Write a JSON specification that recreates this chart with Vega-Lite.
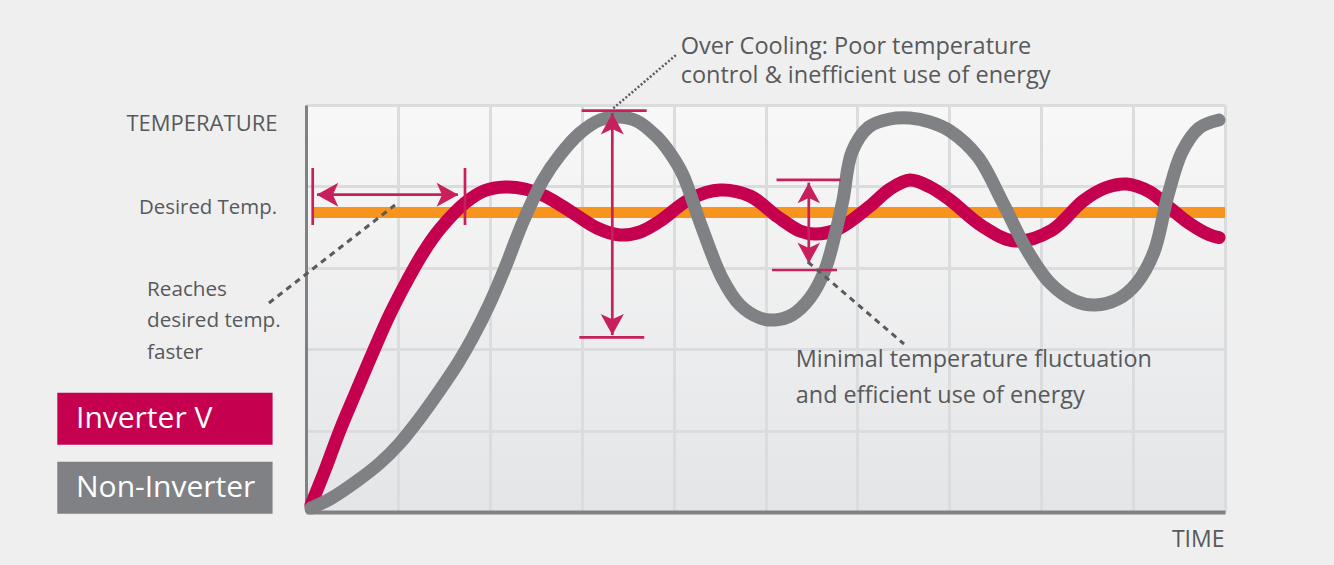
{
  "$schema": "https://vega.github.io/schema/vega-lite/v6.json",
  "width": 919,
  "height": 407,
  "autosize": "none",
  "padding": {"left": 306, "top": 105, "right": 109, "bottom": 53},
  "background": "#efeff0",
  "config": {
    "view": {"stroke": null, "fill": {"gradient": "linear", "x1": 0, "y1": 0, "x2": 0, "y2": 1, "stops": [{"offset": 0, "color": "#f8f8f8"}, {"offset": 1, "color": "#e4e5e7"}]}},
    "font": "Open Sans",
    "axis": {
      "grid": true, "gridColor": "#dbdcde", "gridWidth": 3,
      "labels": false, "ticks": false,
      "domainColor": "#808184",
      "titleFont": "Open Sans", "titleFontWeight": "normal", "titleColor": "#58595b", "titleFontSize": 22
    },
    "legend": {
      "orient": "none", "legendX": -248.7, "legendY": 287.7, "direction": "vertical",
      "symbolType": "M-1,-1 L7.28,-1 L7.28,1 L-1,1 Z",
      "symbolSize": 2704, "symbolStrokeWidth": 0, "symbolOpacity": 1,
      "labelColor": "#ffffff", "labelFont": "Open Sans", "labelFontSize": 30, "labelFontWeight": 500,
      "labelOffset": -33.3, "labelLimit": 300, "rowPadding": 17, "padding": 0
    }
  },
  "datasets": {
    "curves": [
      {"series": "Inverter V", "t": 0.054, "v": 0.086},
      {"series": "Inverter V", "t": 0.207, "v": 0.516},
      {"series": "Inverter V", "t": 0.370, "v": 1.007},
      {"series": "Inverter V", "t": 0.544, "v": 1.474},
      {"series": "Inverter V", "t": 0.729, "v": 1.965},
      {"series": "Inverter V", "t": 0.914, "v": 2.432},
      {"series": "Inverter V", "t": 1.099, "v": 2.838},
      {"series": "Inverter V", "t": 1.273, "v": 3.182},
      {"series": "Inverter V", "t": 1.458, "v": 3.477},
      {"series": "Inverter V", "t": 1.730, "v": 3.796},
      {"series": "Inverter V", "t": 1.948, "v": 3.950},
      {"series": "Inverter V", "t": 2.165, "v": 3.993},
      {"series": "Inverter V", "t": 2.383, "v": 3.968},
      {"series": "Inverter V", "t": 2.601, "v": 3.882},
      {"series": "Inverter V", "t": 2.905, "v": 3.673},
      {"series": "Inverter V", "t": 3.166, "v": 3.489},
      {"series": "Inverter V", "t": 3.417, "v": 3.403},
      {"series": "Inverter V", "t": 3.634, "v": 3.440},
      {"series": "Inverter V", "t": 3.852, "v": 3.575},
      {"series": "Inverter V", "t": 4.178, "v": 3.845},
      {"series": "Inverter V", "t": 4.505, "v": 3.956},
      {"series": "Inverter V", "t": 4.831, "v": 3.882},
      {"series": "Inverter V", "t": 5.136, "v": 3.624},
      {"series": "Inverter V", "t": 5.375, "v": 3.452},
      {"series": "Inverter V", "t": 5.539, "v": 3.415},
      {"series": "Inverter V", "t": 5.789, "v": 3.477},
      {"series": "Inverter V", "t": 6.126, "v": 3.747},
      {"series": "Inverter V", "t": 6.355, "v": 3.968},
      {"series": "Inverter V", "t": 6.572, "v": 4.079},
      {"series": "Inverter V", "t": 6.790, "v": 3.993},
      {"series": "Inverter V", "t": 7.008, "v": 3.833},
      {"series": "Inverter V", "t": 7.356, "v": 3.514},
      {"series": "Inverter V", "t": 7.715, "v": 3.329},
      {"series": "Inverter V", "t": 8.118, "v": 3.464},
      {"series": "Inverter V", "t": 8.455, "v": 3.821},
      {"series": "Inverter V", "t": 8.694, "v": 3.980},
      {"series": "Inverter V", "t": 8.934, "v": 4.029},
      {"series": "Inverter V", "t": 9.184, "v": 3.931},
      {"series": "Inverter V", "t": 9.402, "v": 3.735},
      {"series": "Inverter V", "t": 9.608, "v": 3.550},
      {"series": "Inverter V", "t": 9.837, "v": 3.403},
      {"series": "Inverter V", "t": 9.935, "v": 3.372},
      {"series": "Non-Inverter", "t": 0.054, "v": 0.049},
      {"series": "Non-Inverter", "t": 0.261, "v": 0.160},
      {"series": "Non-Inverter", "t": 0.555, "v": 0.381},
      {"series": "Non-Inverter", "t": 0.805, "v": 0.602},
      {"series": "Non-Inverter", "t": 1.023, "v": 0.848},
      {"series": "Non-Inverter", "t": 1.240, "v": 1.155},
      {"series": "Non-Inverter", "t": 1.458, "v": 1.499},
      {"series": "Non-Inverter", "t": 1.654, "v": 1.830},
      {"series": "Non-Inverter", "t": 1.817, "v": 2.150},
      {"series": "Non-Inverter", "t": 2.002, "v": 2.568},
      {"series": "Non-Inverter", "t": 2.165, "v": 2.998},
      {"series": "Non-Inverter", "t": 2.361, "v": 3.563},
      {"series": "Non-Inverter", "t": 2.579, "v": 4.079},
      {"series": "Non-Inverter", "t": 2.764, "v": 4.386},
      {"series": "Non-Inverter", "t": 2.982, "v": 4.656},
      {"series": "Non-Inverter", "t": 3.199, "v": 4.816},
      {"series": "Non-Inverter", "t": 3.395, "v": 4.853},
      {"series": "Non-Inverter", "t": 3.602, "v": 4.803},
      {"series": "Non-Inverter", "t": 3.819, "v": 4.607},
      {"series": "Non-Inverter", "t": 3.961, "v": 4.410},
      {"series": "Non-Inverter", "t": 4.102, "v": 4.140},
      {"series": "Non-Inverter", "t": 4.298, "v": 3.526},
      {"series": "Non-Inverter", "t": 4.527, "v": 2.875},
      {"series": "Non-Inverter", "t": 4.722, "v": 2.543},
      {"series": "Non-Inverter", "t": 4.940, "v": 2.383},
      {"series": "Non-Inverter", "t": 5.103, "v": 2.359},
      {"series": "Non-Inverter", "t": 5.288, "v": 2.420},
      {"series": "Non-Inverter", "t": 5.484, "v": 2.629},
      {"series": "Non-Inverter", "t": 5.647, "v": 2.973},
      {"series": "Non-Inverter", "t": 5.756, "v": 3.403},
      {"series": "Non-Inverter", "t": 5.843, "v": 3.833},
      {"series": "Non-Inverter", "t": 5.941, "v": 4.423},
      {"series": "Non-Inverter", "t": 6.126, "v": 4.730},
      {"series": "Non-Inverter", "t": 6.355, "v": 4.828},
      {"series": "Non-Inverter", "t": 6.572, "v": 4.840},
      {"series": "Non-Inverter", "t": 6.790, "v": 4.791},
      {"series": "Non-Inverter", "t": 7.008, "v": 4.681},
      {"series": "Non-Inverter", "t": 7.312, "v": 4.361},
      {"series": "Non-Inverter", "t": 7.584, "v": 3.796},
      {"series": "Non-Inverter", "t": 7.845, "v": 3.219},
      {"series": "Non-Inverter", "t": 8.096, "v": 2.813},
      {"series": "Non-Inverter", "t": 8.368, "v": 2.592},
      {"series": "Non-Inverter", "t": 8.585, "v": 2.543},
      {"series": "Non-Inverter", "t": 8.836, "v": 2.617},
      {"series": "Non-Inverter", "t": 9.032, "v": 2.801},
      {"series": "Non-Inverter", "t": 9.227, "v": 3.194},
      {"series": "Non-Inverter", "t": 9.380, "v": 3.894},
      {"series": "Non-Inverter", "t": 9.532, "v": 4.423},
      {"series": "Non-Inverter", "t": 9.717, "v": 4.717},
      {"series": "Non-Inverter", "t": 9.935, "v": 4.816}
    ],
    "desired": [
      {"name": "Desired Temp.", "t0": 0.075, "t1": 10, "v": 3.68}
    ],
    "spans": [
      {"arrow": "reach", "part": "shaft", "t": 0.120, "v": 3.898, "t2": 1.654, "v2": 3.898},
      {"arrow": "reach", "part": "start", "t": 0.073, "v": 4.226, "t2": 0.073, "v2": 3.526},
      {"arrow": "reach", "part": "end", "t": 1.730, "v": 4.226, "t2": 1.730, "v2": 3.526},
      {"arrow": "over", "part": "shaft", "t": 3.333, "v": 4.902, "t2": 3.333, "v2": 2.174},
      {"arrow": "over", "part": "top", "t": 3.000, "v": 4.930, "t2": 3.707, "v2": 4.930},
      {"arrow": "over", "part": "bottom", "t": 2.974, "v": 2.146, "t2": 3.681, "v2": 2.146},
      {"arrow": "minimal", "part": "shaft", "t": 5.471, "v": 4.046, "t2": 5.471, "v2": 3.055},
      {"arrow": "minimal", "part": "top", "t": 5.120, "v": 4.079, "t2": 5.818, "v2": 4.079},
      {"arrow": "minimal", "part": "bottom", "t": 5.071, "v": 2.973, "t2": 5.778, "v2": 2.973}
    ],
    "heads": [
      {"arrow": "reach", "dir": "left", "t": 0.116, "v": 3.898},
      {"arrow": "reach", "dir": "right", "t": 1.657, "v": 3.898},
      {"arrow": "over", "dir": "up", "t": 3.333, "v": 4.898},
      {"arrow": "over", "dir": "down", "t": 3.333, "v": 2.174},
      {"arrow": "minimal", "dir": "up", "t": 5.471, "v": 4.045},
      {"arrow": "minimal", "dir": "down", "t": 5.471, "v": 3.055}
    ],
    "leaders": [
      {"note": "reach", "t": -0.403, "v": 2.568, "t2": 0.968, "v2": 3.771},
      {"note": "minimal", "t": 5.462, "v": 3.071, "t2": 6.507, "v2": 2.064},
      {"note": "over", "t": 3.344, "v": 4.960, "t2": 4.026, "v2": 5.614}
    ],
    "notes": [
      {"note": "desired", "label": "Desired Temp.", "t": -0.3156, "v": 3.657},
      {"note": "reach", "label": "Reaches\ndesired temp.\nfaster", "t": -1.730, "v": 2.657},
      {"note": "over", "label": "Over Cooling: Poor temperature\ncontrol & inefficient use of energy", "t": 4.077, "v": 5.623},
      {"note": "minimal", "label": "Minimal temperature fluctuation\nand efficient use of energy", "t": 5.330, "v": 1.778}
    ]
  },
  "layer": [
    {
      "data": {"name": "desired"},
      "mark": {"type": "rule", "color": "#f7941d", "strokeWidth": 11, "strokeCap": "butt"},
      "encoding": {
        "x": {"field": "t0", "type": "quantitative", "scale": {"domain": [0, 10], "nice": false, "zero": false}},
        "x2": {"field": "t1"},
        "y": {"field": "v", "type": "quantitative", "scale": {"domain": [0, 5], "nice": false, "zero": false}}
      }
    },
    {
      "data": {"name": "curves"},
      "mark": {"type": "line", "strokeWidth": 13, "strokeCap": "round", "strokeJoin": "round", "interpolate": "catmull-rom"},
      "encoding": {
        "x": {"field": "t", "type": "quantitative", "scale": {"domain": [0, 10], "nice": false, "zero": false},
              "axis": {"values": [0, 1, 2, 3, 4, 5, 6, 7, 8, 9, 10], "domainWidth": 4, "title": "TIME", "titleFontSize": 23, "titleX": 918, "titleY": 34.7, "titleAlign": "right", "titleBaseline": "alphabetic", "titleAnchor": null}},
        "y": {"field": "v", "type": "quantitative", "scale": {"domain": [0, 5], "nice": false, "zero": false},
              "axis": {"values": [0, 1, 2, 3, 4, 5], "domainWidth": 3, "title": "TEMPERATURE", "titleX": -29, "titleY": 25.5, "titleAngle": 0, "titleAlign": "right", "titleBaseline": "alphabetic", "titleAnchor": null}},
        "color": {"field": "series", "type": "nominal",
                  "scale": {"domain": ["Inverter V", "Non-Inverter"], "range": ["#c5004f", "#808184"]},
                  "legend": {"title": null, "encode": {"symbols": {"update": {"fill": {"scale": "color", "field": "value"}, "stroke": {"value": "transparent"}, "strokeWidth": {"value": 0}, "opacity": {"value": 1}}}}}},
        "order": {"field": "series", "sort": "descending"}
      }
    },
    {
      "data": {"name": "spans"},
      "mark": {"type": "rule", "color": "#c8205c", "strokeWidth": 2.7},
      "encoding": {
        "x": {"field": "t", "type": "quantitative"},
        "y": {"field": "v", "type": "quantitative"},
        "x2": {"field": "t2"},
        "y2": {"field": "v2"}
      }
    },
    {
      "data": {"name": "heads"},
      "mark": {"type": "point", "filled": true, "color": "#c8205c", "opacity": 1, "strokeWidth": 0},
      "encoding": {
        "x": {"field": "t", "type": "quantitative"},
        "y": {"field": "v", "type": "quantitative"},
        "shape": {"field": "dir", "type": "nominal", "legend": null,
                  "scale": {"domain": ["left", "right", "up", "down"],
                            "range": ["M0,0 L2,-1.1 L1.5,0 L2,1.1 Z", "M0,0 L-2,-1.1 L-1.5,0 L-2,1.1 Z", "M0,0 L-1.1,2 L0,1.5 L1.1,2 Z", "M0,0 L-1.1,-2 L0,-1.5 L1.1,-2 Z"]}},
        "size": {"field": "arrow", "type": "nominal", "legend": null,
                 "scale": {"domain": ["reach", "over", "minimal"], "range": [470, 420, 655]}}
      }
    },
    {
      "data": {"name": "leaders"},
      "transform": [{"filter": "datum.note !== 'over'"}],
      "mark": {"type": "rule", "color": "#5a5b5d", "strokeWidth": 3, "strokeDash": [6, 5]},
      "encoding": {
        "x": {"field": "t", "type": "quantitative"},
        "y": {"field": "v", "type": "quantitative"},
        "x2": {"field": "t2"},
        "y2": {"field": "v2"}
      }
    },
    {
      "data": {"name": "leaders"},
      "transform": [{"filter": "datum.note === 'over'"}],
      "mark": {"type": "rule", "color": "#5a5b5d", "strokeWidth": 2.5, "strokeDash": [2, 2]},
      "encoding": {
        "x": {"field": "t", "type": "quantitative"},
        "y": {"field": "v", "type": "quantitative"},
        "x2": {"field": "t2"},
        "y2": {"field": "v2"}
      }
    },
    {
      "data": {"name": "notes"},
      "transform": [{"filter": "datum.note === 'desired'"}],
      "mark": {"type": "text", "align": "right", "baseline": "alphabetic", "font": "Open Sans", "fontSize": 20.4, "color": "#58595b"},
      "encoding": {
        "x": {"field": "t", "type": "quantitative"},
        "y": {"field": "v", "type": "quantitative"},
        "text": {"field": "label"}
      }
    },
    {
      "data": {"name": "notes"},
      "transform": [{"filter": "datum.note === 'reach'"}],
      "mark": {"type": "text", "align": "left", "baseline": "alphabetic", "font": "Open Sans", "fontSize": 20.7, "lineHeight": 31.7, "lineBreak": "\n", "color": "#58595b"},
      "encoding": {
        "x": {"field": "t", "type": "quantitative"},
        "y": {"field": "v", "type": "quantitative"},
        "text": {"field": "label"}
      }
    },
    {
      "data": {"name": "notes"},
      "transform": [{"filter": "datum.note === 'over'"}],
      "mark": {"type": "text", "align": "left", "baseline": "alphabetic", "font": "Open Sans", "fontSize": 23.5, "lineHeight": 29, "lineBreak": "\n", "color": "#58595b"},
      "encoding": {
        "x": {"field": "t", "type": "quantitative"},
        "y": {"field": "v", "type": "quantitative"},
        "text": {"field": "label"}
      }
    },
    {
      "data": {"name": "notes"},
      "transform": [{"filter": "datum.note === 'minimal'"}],
      "mark": {"type": "text", "align": "left", "baseline": "alphabetic", "font": "Open Sans", "fontSize": 23.4, "lineHeight": 35.4, "lineBreak": "\n", "color": "#58595b"},
      "encoding": {
        "x": {"field": "t", "type": "quantitative"},
        "y": {"field": "v", "type": "quantitative"},
        "text": {"field": "label"}
      }
    }
  ]
}
